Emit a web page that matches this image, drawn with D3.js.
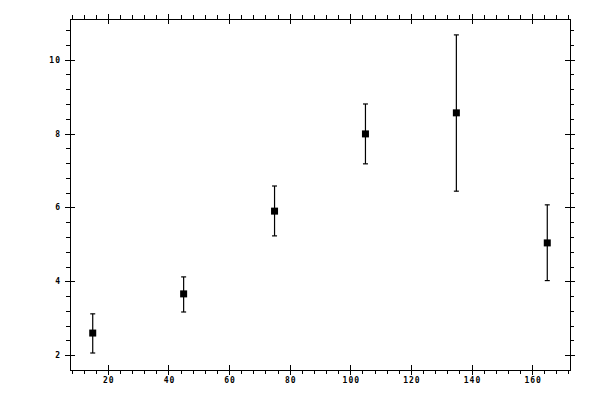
<!DOCTYPE html>
<html><head><meta charset="utf-8">
<script src="https://cdn.jsdelivr.net/npm/d3@7"></script>
<style>body{margin:0;background:#fff}svg{display:block}</style>
</head><body>
<svg id="c" width="600" height="400"></svg>
<script>
const xValues = [15, 45, 75, 105, 135, 165];
const yValues = [2.60, 3.66, 5.90, 7.99, 8.56, 5.04];
const yLower  = [2.06, 3.17, 5.23, 7.18, 6.44, 4.02];
const yUpper  = [3.12, 4.12, 6.58, 8.80, 10.67, 6.07];
const xMajorTicks = [20, 40, 60, 80, 100, 120, 140, 160];
const yMajorTicks = [2, 4, 6, 8, 10];

const svg = d3.select("#c");
const L = 70, R = 570, T = 19, B = 370;
const x = d3.scaleLinear().domain([7.5, 172.5]).range([L, R]);
const y = d3.scaleLinear().domain([1.6, 11.1]).range([B, T]);

const xMinor = d3.range(8, 173, 4).filter(v => !xMajorTicks.includes(v));
const yMinor = d3.range(16, 112, 4).map(v => v / 10).filter(v => !yMajorTicks.includes(v) && v > 1.6);

const g = svg.append("g").attr("stroke", "#000").attr("stroke-width", 1).attr("shape-rendering", "crispEdges");
// frame
g.append("rect").attr("x", L).attr("y", T).attr("width", R - L).attr("height", B - T).attr("fill", "none");

// x ticks bottom and top
xMinor.forEach(v => {
  const px = Math.round(x(v)) + 0.5;
  g.append("line").attr("x1", px).attr("x2", px).attr("y1", B).attr("y2", B + 4);
  g.append("line").attr("x1", px).attr("x2", px).attr("y1", T).attr("y2", T - 4);
});
xMajorTicks.forEach(v => {
  const px = Math.round(x(v)) + 0.5;
  g.append("line").attr("x1", px).attr("x2", px).attr("y1", B - 5).attr("y2", B + 5);
  g.append("line").attr("x1", px).attr("x2", px).attr("y1", T - 5).attr("y2", T + 5);
});
// y ticks left and right
yMinor.forEach(v => {
  const py = Math.round(y(v)) + 0.5;
  g.append("line").attr("y1", py).attr("y2", py).attr("x1", L).attr("x2", L - 4);
  g.append("line").attr("y1", py).attr("y2", py).attr("x1", R).attr("x2", R + 4);
});
yMajorTicks.forEach(v => {
  const py = Math.round(y(v)) + 0.5;
  g.append("line").attr("y1", py).attr("y2", py).attr("x1", L - 5).attr("x2", L + 5);
  g.append("line").attr("y1", py).attr("y2", py).attr("x1", R - 5).attr("x2", R + 5);
});

// labels
const lab = svg.append("g").attr("font-family", "DejaVu Sans Mono, monospace").attr("font-size", 8).attr("font-weight", "bold").attr("fill", "#000");
xMajorTicks.forEach(v => {
  lab.append("text").attr("x", x(v) + 1).attr("y", 383).attr("text-anchor", "middle").attr("letter-spacing", 1).text(v);
});
yMajorTicks.forEach(v => {
  lab.append("text").attr("x", 61).attr("y", y(v) + 3).attr("text-anchor", "end").attr("letter-spacing", 1).text(v);
});

// error bars
const eb = svg.append("g").attr("stroke", "#000").attr("stroke-width", 1.2);
xValues.forEach((xv, i) => {
  const px = x(xv);
  eb.append("line").attr("x1", px).attr("x2", px).attr("y1", y(yLower[i])).attr("y2", y(yUpper[i]));
  eb.append("line").attr("x1", px - 2.5).attr("x2", px + 2.5).attr("y1", y(yLower[i])).attr("y2", y(yLower[i]));
  eb.append("line").attr("x1", px - 2.5).attr("x2", px + 2.5).attr("y1", y(yUpper[i])).attr("y2", y(yUpper[i]));
});
// markers
svg.append("g").selectAll("rect").data(xValues).join("rect")
  .attr("x", d => x(d) - 3.5).attr("y", (d, i) => y(yValues[i]) - 3.5)
  .attr("width", 7).attr("height", 7).attr("fill", "#000");
</script>
</body></html>
